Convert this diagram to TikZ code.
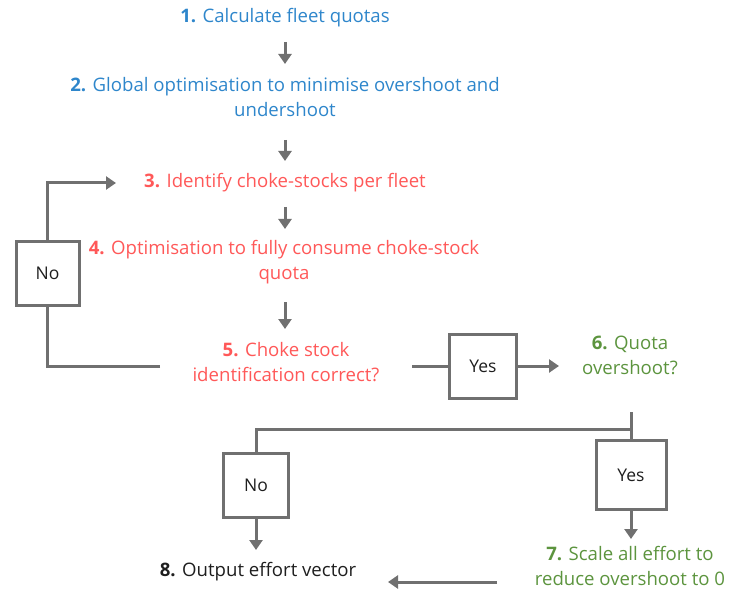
\documentclass[tikz,border=0pt]{standalone}
\usepackage{fontspec}
\setmainfont{Open Sans}
\usetikzlibrary{arrows.meta}
\definecolor{cblue}{RGB}{46,134,203}
\definecolor{cred}{RGB}{255,88,88}
\definecolor{cgreen}{RGB}{92,148,62}
\definecolor{cgray}{RGB}{112,112,112}
\definecolor{ctext}{RGB}{30,30,30}
\begin{document}
\begin{tikzpicture}[x=1pt,y=-1pt,
  txt/.style={font=\fontsize{18.6}{25}\selectfont, align=center, inner sep=0pt},
  box/.style={draw=cgray, line width=3pt, inner sep=0pt, text=ctext,
              font=\fontsize{17.5}{20}\selectfont},
  ln/.style={draw=cgray, line width=3pt},
  arr/.style={ln, -{Triangle[length=10pt,width=13pt]}}]
\useasboundingbox (0,0) rectangle (729,591);

% text nodes
\node[txt, text=cblue] (t1) at (285,18) {\textbf{1.} Calculate fleet quotas};
\node[txt, text=cblue] (t2) at (285,97) {\textbf{2.} Global optimisation to minimise overshoot and\\undershoot};
\node[txt, text=cred] (t3) at (285,183) {\textbf{3.} Identify choke-stocks per fleet};
\node[txt, text=cred] (t4) at (284,262) {\textbf{4.} Optimisation to fully consume choke-stock\\quota};
\node[txt, text=cred] (t5) at (286,362) {\textbf{5.} Choke stock\\identification correct?};
\node[txt, text=cgreen] (t6) at (630,355) {\textbf{6.} Quota\\overshoot?};
\node[txt, text=cgreen] (t7) at (630,566) {\textbf{7.} Scale all effort to\\reduce overshoot to 0};
\node[txt, text=ctext] (t8) at (258,572) {\textbf{8.} Output effort vector};

% decision boxes
\node[box, minimum width=63pt, minimum height=64pt] (no1) at (47.5,273.5) {No};
\node[box, minimum width=67pt, minimum height=64pt] (yes1) at (483,366) {Yes};
\node[box, minimum width=65pt, minimum height=64pt] (no2) at (256,485.5) {No};
\node[box, minimum width=70pt, minimum height=69pt] (yes2) at (631,475) {Yes};

% connector end points
\coordinate (a1s) at (285,42);  \coordinate (a1e) at (285,64);
\coordinate (a2s) at (285,140); \coordinate (a2e) at (285,161);
\coordinate (a3s) at (285,207); \coordinate (a3e) at (285,229);
\coordinate (a4s) at (285,302); \coordinate (a4e) at (285,329);
\coordinate (c5w) at (160,366);
\coordinate (c3w) at (116,183);
\coordinate (c5e) at (412,366);
\coordinate (c6w) at (559,366);
\coordinate (c6s) at (631,412);
\coordinate (cj) at (631,429);
\coordinate (c8n) at (256,550);
\coordinate (c7n) at (631,539);
\coordinate (c7w) at (497,582);
\coordinate (c8e) at (388,582);

% connectors
\draw[arr] (a1s) -- (a1e);
\draw[arr] (a2s) -- (a2e);
\draw[arr] (a3s) -- (a3e);
\draw[arr] (a4s) -- (a4e);
\draw[ln] (c5w) -| (no1.south);
\draw[arr] (no1.north) |- (c3w);
\draw[ln] (c5e) -- (yes1.west);
\draw[arr] (yes1.east) -- (c6w);
\draw[ln] (c6s) -- (yes2.north);
\draw[ln] (cj) -| (no2.north);
\draw[arr] (no2.south) -- (c8n);
\draw[arr] (yes2.south) -- (c7n);
\draw[arr] (c7w) -- (c8e);
\end{tikzpicture}
\end{document}
